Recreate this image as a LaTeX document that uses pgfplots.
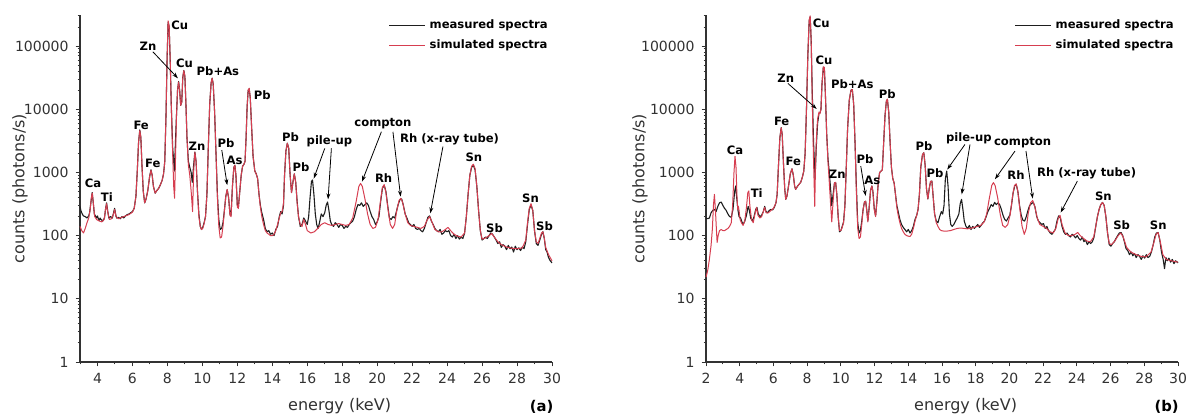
\documentclass[border=0pt]{standalone}
\usepackage{fontspec}
\setmainfont{DejaVu Sans}
\usepackage{pgfplots}
\usepackage{pgfplotstable}
\pgfplotsset{compat=1.18}
\usetikzlibrary{arrows.meta}

\definecolor{meascol}{RGB}{30,30,30}
\definecolor{simucol}{RGB}{214,62,80}
\definecolor{axgray}{RGB}{50,50,50}

% panel (a): measured
\pgfplotstableread[row sep=\\]{E c\\
3.00 290\\ 3.05 250\\ 3.10 230\\ 3.15 215\\ 3.20 205\\ 3.30 200\\ 3.40 190\\ 3.50 205\\
3.55 230\\ 3.62 330\\ 3.70 480\\ 3.76 330\\ 3.82 220\\ 3.90 200\\ 3.95 190\\ 4.00 205\\
4.05 185\\ 4.10 175\\ 4.15 190\\ 4.20 180\\ 4.30 170\\ 4.40 190\\ 4.46 260\\ 4.52 330\\
4.58 250\\ 4.65 190\\ 4.75 200\\ 4.85 190\\ 4.92 230\\ 4.98 270\\ 5.05 210\\ 5.10 190\\
5.20 195\\ 5.30 185\\ 5.40 200\\ 5.50 190\\ 5.60 205\\ 5.70 215\\ 5.80 220\\ 5.90 230\\
6.00 240\\ 6.10 270\\ 6.20 420\\ 6.28 1100\\ 6.35 3000\\ 6.42 4700\\ 6.48 3600\\ 6.55 1200\\
6.62 500\\ 6.70 330\\ 6.78 380\\ 6.88 520\\ 6.98 850\\ 7.06 1100\\ 7.13 900\\ 7.20 600\\
7.30 470\\ 7.40 520\\ 7.50 560\\ 7.60 640\\ 7.70 750\\ 7.78 950\\ 7.85 1500\\ 7.92 8000\\
7.98 60000\\ 8.04 240000\\ 8.10 200000\\ 8.16 60000\\ 8.22 12000\\ 8.30 2500\\ 8.40 1050\\ 8.50 6000\\
8.58 20000\\ 8.64 27500\\ 8.70 20000\\ 8.76 11500\\ 8.82 13000\\ 8.88 32000\\ 8.94 41000\\ 9.00 33000\\
9.06 12000\\ 9.12 3500\\ 9.20 1500\\ 9.28 1200\\ 9.36 1000\\ 9.42 700\\ 9.50 1300\\ 9.57 2100\\
9.64 1500\\ 9.72 500\\ 9.80 220\\ 9.88 140\\ 9.95 125\\ 10.02 135\\ 10.10 160\\ 10.18 200\\
10.26 450\\ 10.34 2500\\ 10.42 12000\\ 10.50 26000\\ 10.56 31000\\ 10.62 25000\\ 10.70 9000\\ 10.78 2000\\
10.86 450\\ 10.94 180\\ 11.02 125\\ 11.10 130\\ 11.18 160\\ 11.26 250\\ 11.34 420\\ 11.42 530\\
11.50 400\\ 11.58 220\\ 11.64 210\\ 11.72 600\\ 11.80 1200\\ 11.86 1300\\ 11.92 900\\ 12.00 300\\
12.06 280\\ 12.14 500\\ 12.22 900\\ 12.30 1250\\ 12.38 1350\\ 12.44 1500\\ 12.50 3500\\ 12.56 11000\\
12.62 20000\\ 12.68 21000\\ 12.74 15000\\ 12.82 5000\\ 12.90 1800\\ 13.00 1050\\ 13.08 950\\ 13.16 800\\
13.24 450\\ 13.32 300\\ 13.40 230\\ 13.50 180\\ 13.60 130\\ 13.70 115\\ 13.80 120\\ 13.90 105\\
14.00 110\\ 14.10 100\\ 14.20 125\\ 14.30 140\\ 14.40 200\\ 14.48 240\\ 14.56 220\\ 14.64 300\\
14.70 900\\ 14.78 2200\\ 14.86 2900\\ 14.94 2400\\ 15.02 900\\ 15.10 480\\ 15.18 700\\ 15.26 950\\
15.34 700\\ 15.42 350\\ 15.50 200\\ 15.60 140\\ 15.70 150\\ 15.80 190\\ 15.90 170\\ 16.00 150\\
16.08 200\\ 16.16 400\\ 16.24 720\\ 16.30 760\\ 16.38 450\\ 16.46 220\\ 16.54 150\\ 16.62 130\\
16.70 160\\ 16.80 220\\ 16.90 200\\ 17.00 230\\ 17.08 300\\ 17.16 340\\ 17.24 250\\ 17.32 170\\
17.40 150\\ 17.50 140\\ 17.60 160\\ 17.70 150\\ 17.80 135\\ 17.90 150\\ 18.00 145\\ 18.10 130\\
18.20 140\\ 18.30 135\\ 18.40 150\\ 18.50 160\\ 18.60 170\\ 18.70 200\\ 18.80 260\\ 18.90 310\\
19.00 300\\ 19.10 330\\ 19.20 290\\ 19.30 310\\ 19.40 330\\ 19.50 300\\ 19.60 240\\ 19.70 200\\
19.80 180\\ 19.90 150\\ 20.00 165\\ 20.10 200\\ 20.20 350\\ 20.30 560\\ 20.40 630\\ 20.50 500\\
20.60 300\\ 20.70 190\\ 20.80 180\\ 20.90 200\\ 21.00 190\\ 21.10 240\\ 21.20 310\\ 21.30 370\\
21.40 380\\ 21.50 300\\ 21.60 220\\ 21.70 190\\ 21.80 160\\ 21.90 150\\ 22.00 140\\ 22.10 150\\
22.20 130\\ 22.30 125\\ 22.40 130\\ 22.50 120\\ 22.60 115\\ 22.70 130\\ 22.80 160\\ 22.90 195\\
23.00 205\\ 23.10 170\\ 23.20 150\\ 23.30 130\\ 23.40 120\\ 23.50 115\\ 23.60 125\\ 23.70 105\\
23.80 110\\ 23.90 120\\ 24.00 115\\ 24.10 120\\ 24.20 100\\ 24.30 95\\ 24.40 105\\ 24.50 90\\
24.60 100\\ 24.70 88\\ 24.80 95\\ 24.90 90\\ 25.00 110\\ 25.10 200\\ 25.20 450\\ 25.30 900\\
25.40 1200\\ 25.50 1300\\ 25.60 1100\\ 25.70 600\\ 25.80 250\\ 25.90 120\\ 26.00 85\\ 26.10 90\\
26.20 95\\ 26.30 90\\ 26.40 100\\ 26.50 110\\ 26.60 105\\ 26.70 95\\ 26.80 85\\ 26.90 75\\
27.00 80\\ 27.10 65\\ 27.20 72\\ 27.30 68\\ 27.40 60\\ 27.50 70\\ 27.60 62\\ 27.70 66\\
27.80 55\\ 27.90 68\\ 28.00 60\\ 28.10 64\\ 28.20 58\\ 28.30 66\\ 28.40 62\\ 28.50 80\\
28.60 150\\ 28.70 260\\ 28.80 305\\ 28.90 250\\ 29.00 120\\ 29.10 75\\ 29.20 70\\ 29.30 85\\
29.40 105\\ 29.48 115\\ 29.56 90\\ 29.64 60\\ 29.72 55\\ 29.80 45\\ 29.90 40\\ 30.00 37\\
}\measA

% panel (a): simulated
\pgfplotstableread[row sep=\\]{E c\\
3.00 140\\ 3.10 120\\ 3.20 110\\ 3.30 130\\ 3.40 160\\ 3.50 190\\ 3.58 260\\ 3.65 400\\
3.70 470\\ 3.76 330\\ 3.84 200\\ 3.95 180\\ 4.10 170\\ 4.25 165\\ 4.38 180\\ 4.46 260\\
4.52 320\\ 4.58 240\\ 4.68 180\\ 4.80 185\\ 4.92 220\\ 4.98 260\\ 5.06 200\\ 5.20 185\\
5.40 195\\ 5.60 205\\ 5.80 215\\ 6.00 235\\ 6.10 270\\ 6.20 420\\ 6.28 1100\\ 6.35 3000\\
6.42 4600\\ 6.48 3600\\ 6.55 1200\\ 6.62 500\\ 6.70 330\\ 6.78 380\\ 6.88 520\\ 6.98 850\\
7.06 1080\\ 7.13 900\\ 7.20 600\\ 7.30 470\\ 7.40 520\\ 7.50 560\\ 7.60 640\\ 7.70 750\\
7.78 950\\ 7.85 1500\\ 7.92 8000\\ 7.98 60000\\ 8.04 250000\\ 8.10 210000\\ 8.16 60000\\ 8.22 12000\\
8.30 2000\\ 8.36 600\\ 8.41 390\\ 8.46 1500\\ 8.52 8000\\ 8.58 20000\\ 8.64 27000\\ 8.70 20000\\
8.76 11500\\ 8.82 13000\\ 8.88 32000\\ 8.94 41000\\ 9.00 33000\\ 9.06 12000\\ 9.12 3500\\ 9.20 1300\\
9.28 900\\ 9.36 500\\ 9.44 240\\ 9.50 1000\\ 9.57 2100\\ 9.64 1500\\ 9.72 500\\ 9.80 200\\
9.88 140\\ 9.95 125\\ 10.02 130\\ 10.10 155\\ 10.18 200\\ 10.26 450\\ 10.34 2500\\ 10.42 12000\\
10.50 26000\\ 10.56 31000\\ 10.62 25000\\ 10.70 9000\\ 10.78 2000\\ 10.86 400\\ 10.94 140\\ 11.02 92\\
11.10 95\\ 11.18 140\\ 11.26 250\\ 11.34 420\\ 11.42 540\\ 11.50 400\\ 11.58 210\\ 11.64 200\\
11.72 600\\ 11.80 1200\\ 11.86 1300\\ 11.92 900\\ 12.00 280\\ 12.06 270\\ 12.14 500\\ 12.22 900\\
12.30 1250\\ 12.38 1350\\ 12.44 1500\\ 12.50 3500\\ 12.56 11000\\ 12.62 20000\\ 12.68 21500\\ 12.74 15000\\
12.82 5000\\ 12.90 1800\\ 13.00 1050\\ 13.08 950\\ 13.16 800\\ 13.24 450\\ 13.32 280\\ 13.40 200\\
13.50 150\\ 13.60 120\\ 13.70 110\\ 13.80 105\\ 13.90 100\\ 14.00 100\\ 14.10 105\\ 14.20 120\\
14.30 150\\ 14.40 190\\ 14.48 230\\ 14.56 240\\ 14.64 320\\ 14.70 900\\ 14.78 2200\\ 14.86 2900\\
14.94 2400\\ 15.02 900\\ 15.10 480\\ 15.18 700\\ 15.26 950\\ 15.34 700\\ 15.42 330\\ 15.50 200\\
15.60 150\\ 15.70 140\\ 15.80 180\\ 15.90 150\\ 16.00 120\\ 16.20 110\\ 16.40 115\\ 16.60 130\\
16.80 150\\ 17.00 160\\ 17.20 150\\ 17.40 145\\ 17.60 150\\ 17.80 155\\ 18.00 150\\ 18.20 145\\
18.40 150\\ 18.60 190\\ 18.80 350\\ 18.95 600\\ 19.05 670\\ 19.15 600\\ 19.30 380\\ 19.45 220\\
19.60 150\\ 19.75 130\\ 19.90 135\\ 20.05 180\\ 20.20 370\\ 20.30 580\\ 20.40 640\\ 20.50 480\\
20.62 260\\ 20.75 150\\ 20.88 130\\ 21.00 150\\ 21.12 250\\ 21.25 360\\ 21.35 390\\ 21.45 340\\
21.60 220\\ 21.75 160\\ 21.90 145\\ 22.10 140\\ 22.30 135\\ 22.50 130\\ 22.70 140\\ 22.85 175\\
23.00 200\\ 23.15 160\\ 23.30 125\\ 23.50 115\\ 23.70 115\\ 23.90 125\\ 24.05 135\\ 24.20 120\\
24.40 105\\ 24.60 98\\ 24.80 95\\ 25.00 110\\ 25.10 200\\ 25.20 450\\ 25.30 900\\ 25.40 1250\\
25.50 1350\\ 25.60 1150\\ 25.70 600\\ 25.80 250\\ 25.90 120\\ 26.00 88\\ 26.20 92\\ 26.40 100\\
26.55 108\\ 26.70 95\\ 26.90 80\\ 27.10 72\\ 27.40 66\\ 27.70 63\\ 28.00 62\\ 28.30 64\\
28.50 85\\ 28.60 160\\ 28.70 270\\ 28.80 320\\ 28.90 250\\ 29.00 120\\ 29.10 80\\ 29.20 75\\
29.30 90\\ 29.40 110\\ 29.48 115\\ 29.56 90\\ 29.64 65\\ 29.80 50\\ 30.00 40\\
}\simA

% panel (b): measured
\pgfplotstableread[row sep=\\]{E c\\
2.00 190\\ 2.10 185\\ 2.20 190\\ 2.30 230\\ 2.40 250\\ 2.50 260\\ 2.60 240\\ 2.70 290\\
2.80 330\\ 2.90 340\\ 3.00 300\\ 3.10 270\\ 3.20 250\\ 3.30 220\\ 3.40 200\\ 3.50 195\\
3.60 260\\ 3.70 500\\ 3.76 610\\ 3.82 400\\ 3.90 250\\ 3.96 200\\ 4.05 190\\ 4.15 160\\
4.20 150\\ 4.30 170\\ 4.40 210\\ 4.50 290\\ 4.56 260\\ 4.65 190\\ 4.75 170\\ 4.85 200\\
4.95 260\\ 5.02 280\\ 5.10 220\\ 5.20 200\\ 5.30 210\\ 5.40 240\\ 5.48 290\\ 5.56 240\\
5.65 230\\ 5.75 250\\ 5.85 260\\ 5.95 255\\ 6.05 280\\ 6.15 330\\ 6.22 450\\ 6.30 1300\\
6.38 3500\\ 6.46 5100\\ 6.52 4000\\ 6.60 1300\\ 6.67 550\\ 6.73 375\\ 6.80 420\\ 6.90 620\\
7.00 950\\ 7.10 1140\\ 7.18 900\\ 7.26 600\\ 7.32 540\\ 7.42 600\\ 7.52 650\\ 7.62 700\\
7.72 850\\ 7.80 1050\\ 7.88 2000\\ 7.96 10000\\ 8.04 70000\\ 8.12 250000\\ 8.18 290000\\ 8.24 120000\\
8.30 20000\\ 8.38 3000\\ 8.47 780\\ 8.54 2500\\ 8.62 6000\\ 8.70 8500\\ 8.76 8800\\ 8.82 10000\\
8.88 25000\\ 8.96 46000\\ 9.02 45000\\ 9.08 18000\\ 9.16 4000\\ 9.24 1600\\ 9.30 1100\\ 9.38 600\\
9.46 300\\ 9.54 450\\ 9.62 680\\ 9.69 690\\ 9.76 450\\ 9.84 200\\ 9.92 115\\ 10.00 120\\
10.08 140\\ 10.16 165\\ 10.24 300\\ 10.32 1200\\ 10.40 5000\\ 10.50 14000\\ 10.60 20000\\ 10.68 20500\\
10.76 12000\\ 10.84 3000\\ 10.92 600\\ 11.00 160\\ 11.08 110\\ 11.16 120\\ 11.24 170\\ 11.32 260\\
11.40 340\\ 11.47 350\\ 11.54 250\\ 11.60 170\\ 11.68 280\\ 11.76 520\\ 11.84 610\\ 11.90 500\\
11.98 270\\ 12.06 205\\ 12.14 350\\ 12.22 700\\ 12.30 1000\\ 12.38 1050\\ 12.46 1100\\ 12.54 3000\\
12.62 8000\\ 12.70 13500\\ 12.76 14200\\ 12.84 9000\\ 12.92 3000\\ 13.00 1200\\ 13.08 800\\ 13.16 680\\
13.24 450\\ 13.32 300\\ 13.40 240\\ 13.50 180\\ 13.60 150\\ 13.70 135\\ 13.80 125\\ 13.90 115\\
14.00 125\\ 14.10 110\\ 14.20 120\\ 14.30 140\\ 14.40 180\\ 14.50 210\\ 14.58 260\\ 14.66 450\\
14.74 1200\\ 14.84 1900\\ 14.92 2050\\ 15.00 1300\\ 15.08 550\\ 15.16 380\\ 15.24 550\\ 15.32 720\\
15.40 730\\ 15.48 400\\ 15.56 220\\ 15.66 170\\ 15.76 160\\ 15.86 200\\ 15.96 240\\ 16.04 220\\
16.12 300\\ 16.20 800\\ 16.28 1050\\ 16.36 600\\ 16.44 220\\ 16.52 150\\ 16.60 140\\ 16.70 150\\
16.80 170\\ 16.90 190\\ 17.00 220\\ 17.08 320\\ 17.16 375\\ 17.24 260\\ 17.32 170\\ 17.42 140\\
17.52 130\\ 17.62 145\\ 17.72 125\\ 17.82 140\\ 17.92 130\\ 18.02 140\\ 18.12 150\\ 18.22 135\\
18.32 145\\ 18.42 160\\ 18.52 170\\ 18.62 200\\ 18.72 240\\ 18.82 270\\ 18.92 310\\ 19.02 290\\
19.12 335\\ 19.22 310\\ 19.32 330\\ 19.42 310\\ 19.52 260\\ 19.62 210\\ 19.72 180\\ 19.82 170\\
19.92 190\\ 20.02 210\\ 20.12 300\\ 20.22 480\\ 20.32 620\\ 20.40 650\\ 20.50 500\\ 20.60 300\\
20.70 210\\ 20.80 175\\ 20.90 170\\ 21.00 200\\ 21.10 250\\ 21.20 300\\ 21.30 320\\ 21.42 335\\
21.52 280\\ 21.62 200\\ 21.72 170\\ 21.82 160\\ 21.92 150\\ 22.02 155\\ 22.12 130\\ 22.22 140\\
22.32 120\\ 22.42 110\\ 22.52 105\\ 22.62 115\\ 22.72 125\\ 22.82 170\\ 22.92 205\\ 23.02 190\\
23.12 140\\ 23.22 115\\ 23.32 105\\ 23.42 110\\ 23.52 100\\ 23.62 95\\ 23.72 105\\ 23.82 100\\
23.92 92\\ 24.02 100\\ 24.12 90\\ 24.22 85\\ 24.32 95\\ 24.42 80\\ 24.52 85\\ 24.62 72\\
24.72 80\\ 24.82 75\\ 24.92 80\\ 25.02 95\\ 25.12 140\\ 25.22 200\\ 25.32 260\\ 25.42 310\\
25.52 335\\ 25.62 300\\ 25.72 200\\ 25.82 110\\ 25.92 72\\ 26.02 68\\ 26.12 75\\ 26.22 80\\
26.32 90\\ 26.42 100\\ 26.52 110\\ 26.62 112\\ 26.72 100\\ 26.82 80\\ 26.92 62\\ 27.02 58\\
27.12 50\\ 27.22 55\\ 27.32 48\\ 27.42 52\\ 27.52 45\\ 27.62 50\\ 27.72 47\\ 27.82 42\\
27.92 48\\ 28.02 44\\ 28.12 50\\ 28.22 45\\ 28.32 47\\ 28.42 55\\ 28.52 70\\ 28.62 95\\
28.72 110\\ 28.82 112\\ 28.92 85\\ 29.02 55\\ 29.12 42\\ 29.20 30\\ 29.28 45\\ 29.36 40\\
29.46 44\\ 29.56 38\\ 29.66 42\\ 29.76 36\\ 29.86 40\\ 30.00 37\\
}\measB

% panel (b): simulated
\pgfplotstableread[row sep=\\]{E c\\
2.00 22\\ 2.10 28\\ 2.20 42\\ 2.30 70\\ 2.38 130\\ 2.44 300\\ 2.50 450\\ 2.56 250\\
2.62 120\\ 2.66 78\\ 2.72 100\\ 2.80 120\\ 2.90 125\\ 3.00 120\\ 3.10 120\\ 3.20 125\\
3.30 130\\ 3.40 140\\ 3.50 160\\ 3.58 300\\ 3.66 1000\\ 3.72 1800\\ 3.78 1200\\ 3.84 400\\
3.88 260\\ 3.92 290\\ 3.96 250\\ 4.02 180\\ 4.10 160\\ 4.20 145\\ 4.30 170\\ 4.40 280\\
4.48 480\\ 4.54 510\\ 4.60 300\\ 4.70 180\\ 4.80 160\\ 4.92 230\\ 5.00 280\\ 5.08 210\\
5.20 190\\ 5.30 200\\ 5.40 240\\ 5.48 280\\ 5.56 230\\ 5.70 230\\ 5.85 250\\ 6.00 270\\
6.15 330\\ 6.22 450\\ 6.30 1300\\ 6.38 3500\\ 6.46 5100\\ 6.52 4000\\ 6.60 1300\\ 6.67 550\\
6.73 375\\ 6.80 420\\ 6.90 620\\ 7.00 950\\ 7.10 1140\\ 7.18 900\\ 7.26 600\\ 7.32 540\\
7.42 600\\ 7.52 650\\ 7.62 700\\ 7.72 850\\ 7.80 1050\\ 7.88 2000\\ 7.96 10000\\ 8.04 70000\\
8.12 260000\\ 8.18 300000\\ 8.24 120000\\ 8.30 15000\\ 8.38 1500\\ 8.45 290\\ 8.50 1500\\ 8.56 4000\\
8.62 7000\\ 8.70 9000\\ 8.76 8500\\ 8.82 10000\\ 8.88 25000\\ 8.96 47000\\ 9.02 46000\\ 9.08 18000\\
9.16 4000\\ 9.24 1400\\ 9.30 800\\ 9.38 350\\ 9.46 165\\ 9.54 350\\ 9.62 680\\ 9.69 700\\
9.76 450\\ 9.84 200\\ 9.92 120\\ 10.00 120\\ 10.08 135\\ 10.16 160\\ 10.24 300\\ 10.32 1200\\
10.40 5000\\ 10.50 14000\\ 10.60 20000\\ 10.68 20500\\ 10.76 12000\\ 10.84 3000\\ 10.92 500\\ 11.00 130\\
11.08 90\\ 11.16 95\\ 11.24 150\\ 11.32 260\\ 11.40 340\\ 11.47 350\\ 11.54 240\\ 11.60 165\\
11.68 280\\ 11.76 520\\ 11.84 610\\ 11.90 500\\ 11.98 260\\ 12.06 200\\ 12.14 350\\ 12.22 700\\
12.30 1000\\ 12.38 1050\\ 12.46 1100\\ 12.54 3000\\ 12.62 8000\\ 12.70 13500\\ 12.76 14500\\ 12.84 9000\\
12.92 3000\\ 13.00 1200\\ 13.08 800\\ 13.16 680\\ 13.24 450\\ 13.32 280\\ 13.40 210\\ 13.50 160\\
13.60 130\\ 13.70 115\\ 13.80 105\\ 13.90 100\\ 14.00 98\\ 14.10 97\\ 14.20 105\\ 14.30 130\\
14.40 170\\ 14.50 210\\ 14.58 260\\ 14.66 450\\ 14.74 1200\\ 14.84 1900\\ 14.92 2050\\ 15.00 1300\\
15.08 550\\ 15.16 380\\ 15.24 550\\ 15.32 720\\ 15.40 730\\ 15.48 400\\ 15.56 220\\ 15.66 160\\
15.76 140\\ 15.86 125\\ 15.96 120\\ 16.10 118\\ 16.30 118\\ 16.50 120\\ 16.70 125\\ 16.90 130\\
17.10 132\\ 17.30 130\\ 17.50 128\\ 17.70 130\\ 17.90 135\\ 18.10 140\\ 18.30 145\\ 18.50 165\\
18.65 220\\ 18.80 380\\ 18.95 620\\ 19.05 690\\ 19.15 620\\ 19.30 400\\ 19.45 220\\ 19.60 145\\
19.75 135\\ 19.90 150\\ 20.05 220\\ 20.20 450\\ 20.30 620\\ 20.40 660\\ 20.50 500\\ 20.62 260\\
20.75 140\\ 20.88 105\\ 21.00 130\\ 21.12 230\\ 21.25 330\\ 21.38 360\\ 21.50 290\\ 21.65 190\\
21.80 150\\ 22.00 140\\ 22.20 130\\ 22.40 115\\ 22.60 110\\ 22.75 130\\ 22.90 190\\ 23.00 210\\
23.12 150\\ 23.30 110\\ 23.50 100\\ 23.70 100\\ 23.90 105\\ 24.05 112\\ 24.20 100\\ 24.40 90\\
24.60 82\\ 24.80 80\\ 25.00 95\\ 25.12 140\\ 25.22 200\\ 25.32 260\\ 25.42 310\\ 25.52 335\\
25.62 300\\ 25.72 200\\ 25.82 110\\ 25.92 75\\ 26.05 72\\ 26.25 82\\ 26.45 100\\ 26.60 110\\
26.75 95\\ 26.95 65\\ 27.20 55\\ 27.50 50\\ 27.80 47\\ 28.10 46\\ 28.40 55\\ 28.55 75\\
28.70 105\\ 28.82 112\\ 28.95 80\\ 29.10 50\\ 29.30 42\\ 29.60 40\\ 30.00 38\\
}\simB

\tikzset{
  txtlab/.style={font=\bfseries\fontsize{5.8}{6}\selectfont, inner sep=0pt, text=black},
  txtarr/.style={-{Stealth[length=3pt,width=2pt]}, line width=0.4pt, black},
}
\pgfplotsset{
  legend image code/.code={\draw[#1, line width=0.6pt] (0pt,0pt) -- (18pt,0pt);},
  every axis legend/.append style={draw=none, fill=none, at={(1,1.0)}, anchor=north east,
    font=\bfseries\fontsize{5.8}{6}\selectfont, row sep=0pt, inner sep=0pt, cells={anchor=west}},
  every axis label/.append style={font=\fontsize{8}{9}\selectfont, text=axgray},
  every tick label/.append style={font=\fontsize{7}{8}\selectfont, text=axgray},
}

\begin{document}
\begin{tikzpicture}
\path[use as bounding box] (0,0) rectangle (593.5pt,208.5pt);

% ---------- (a) ----------
\begin{axis}[at={(40pt,27.5pt)}, anchor=south west,
  scale only axis, width=236pt, height=173.5pt,
  ymode=log, ymin=1, ymax=310000, xmin=3, xmax=30,
  axis lines=left, axis line style={axgray, line width=0.6pt, -},
  tick align=outside, major tick length=2.2pt, minor tick length=1.2pt,
  tick style={axgray, line width=0.5pt},
  xtick={4,6,8,10,12,14,16,18,20,22,24,26,28,30},
  minor xtick={3,5,7,9,11,13,15,17,19,21,23,25,27,29},
  ytick={1,10,100,1000,10000,100000},
  yticklabels={1,10,100,1000,10000,100000},
  minor ytick={2,3,4,5,6,7,8,9,20,30,40,50,60,70,80,90,200,300,400,500,600,700,800,900,2000,3000,4000,5000,6000,7000,8000,9000,20000,30000,40000,50000,60000,70000,80000,90000,200000,300000},
  xticklabel={\pgfmathprintnumber[assume math mode=true]{\tick}},
  xlabel={energy (keV)}, ylabel={counts (photons/s)},
  xlabel style={at={(axis description cs:0.55,-0.127)}, anchor=center},
  ylabel style={at={(axis description cs:-0.127,0.5)}, anchor=center},
  clip=false]
\addplot[meascol, line width=0.55pt, line join=round] table[x=E, y=c] {\measA};
\addlegendentry{measured spectra}
\addplot[simucol, line width=0.5pt, line join=round] table[x=E, y=c] {\simA};
\addlegendentry{simulated spectra}

\node[txtlab] at (axis cs:3.74,680) {Ca};
\node[txtlab] at (axis cs:4.54,410) {Ti};
\node[txtlab] at (axis cs:6.50,5620) {Fe};
\node[txtlab] at (axis cs:7.17,1390) {Fe};
\node[txtlab] at (axis cs:8.70,215000) {Cu};
\node[txtlab] at (axis cs:6.89,100000) {Zn};
\draw[txtarr] (axis cs:7.17,81000) -- (axis cs:8.60,30900);
\node[txtlab] at (axis cs:8.98,53300) {Cu};
\node[txtlab] at (axis cs:10.89,39400) {Pb+As};
\node[txtlab] at (axis cs:13.42,16700) {Pb};
\node[txtlab] at (axis cs:9.69,2630) {Zn};
\node[txtlab] at (axis cs:11.36,2880) {Pb};
\draw[txtarr] (axis cs:11.11,2260) -- (axis cs:11.42,630);
\node[txtlab] at (axis cs:11.84,1570) {As};
\node[txtlab] at (axis cs:15.04,3670) {Pb};
\node[txtlab] at (axis cs:15.65,1200) {Pb};
\node[txtlab] at (axis cs:17.27,3100) {pile-up};
\draw[txtarr] (axis cs:17.00,2400) -- (axis cs:16.37,800);
\draw[txtarr] (axis cs:17.38,2400) -- (axis cs:17.19,375);
\node[txtlab] at (axis cs:20.33,5830) {compton};
\draw[txtarr] (axis cs:20.24,4400) -- (axis cs:19.13,715);
\draw[txtarr] (axis cs:20.90,4400) -- (axis cs:21.34,414);
\node[txtlab] at (axis cs:24.14,3340) {Rh (x-ray tube)};
\draw[txtarr] (axis cs:23.76,2560) -- (axis cs:23.04,225);
\node[txtlab] at (axis cs:20.37,807) {Rh};
\node[txtlab] at (axis cs:25.53,1740) {Sn};
\node[txtlab] at (axis cs:26.71,133) {Sb};
\node[txtlab] at (axis cs:28.77,383) {Sn};
\node[txtlab] at (axis cs:29.57,142) {Sb};
\node[font=\bfseries\fontsize{7.4}{8}\selectfont] at (axis description cs:0.978,-0.129) {(a)};
\end{axis}

% ---------- (b) ----------
\begin{axis}[at={(353pt,27.5pt)}, anchor=south west,
  scale only axis, width=236pt, height=173.5pt,
  ymode=log, ymin=1, ymax=310000, xmin=2, xmax=30,
  axis lines=left, axis line style={axgray, line width=0.6pt, -},
  tick align=outside, major tick length=2.2pt, minor tick length=1.2pt,
  tick style={axgray, line width=0.5pt},
  xtick={2,4,6,8,10,12,14,16,18,20,22,24,26,28,30},
  minor xtick={3,5,7,9,11,13,15,17,19,21,23,25,27,29},
  ytick={1,10,100,1000,10000,100000},
  yticklabels={1,10,100,1000,10000,100000},
  minor ytick={2,3,4,5,6,7,8,9,20,30,40,50,60,70,80,90,200,300,400,500,600,700,800,900,2000,3000,4000,5000,6000,7000,8000,9000,20000,30000,40000,50000,60000,70000,80000,90000,200000,300000},
  xticklabel={\pgfmathprintnumber[assume math mode=true]{\tick}},
  xlabel={energy (keV)}, ylabel={counts (photons/s)},
  xlabel style={at={(axis description cs:0.55,-0.127)}, anchor=center},
  ylabel style={at={(axis description cs:-0.14,0.5)}, anchor=center},
  clip=false]
\addplot[meascol, line width=0.55pt, line join=round] table[x=E, y=c] {\measB};
\addlegendentry{measured spectra}
\addplot[simucol, line width=0.5pt, line join=round] table[x=E, y=c] {\simB};
\addlegendentry{simulated spectra}

\node[txtlab] at (axis cs:3.72,2230) {Ca};
\node[txtlab] at (axis cs:5.01,470) {Ti};
\node[txtlab] at (axis cs:6.49,6470) {Fe};
\node[txtlab] at (axis cs:7.18,1510) {Fe};
\node[txtlab] at (axis cs:8.84,226000) {Cu};
\node[txtlab] at (axis cs:9.00,59700) {Cu};
\node[txtlab] at (axis cs:6.73,30400) {Zn};
\draw[txtarr] (axis cs:6.86,25600) -- (axis cs:8.57,10100);
\node[txtlab] at (axis cs:10.68,24600) {Pb+As};
\node[txtlab] at (axis cs:12.76,17100) {Pb};
\node[txtlab] at (axis cs:9.79,930) {Zn};
\node[txtlab] at (axis cs:11.43,1610) {Pb};
\draw[txtarr] (axis cs:11.18,1260) -- (axis cs:11.47,425);
\node[txtlab] at (axis cs:11.87,760) {As};
\node[txtlab] at (axis cs:14.93,2630) {Pb};
\node[txtlab] at (axis cs:15.59,990) {Pb};
\node[txtlab] at (axis cs:17.59,3530) {pile-up};
\draw[txtarr] (axis cs:17.36,2770) -- (axis cs:16.31,1110);
\draw[txtarr] (axis cs:17.66,2770) -- (axis cs:17.17,450);
\node[txtlab] at (axis cs:20.78,2950) {compton};
\draw[txtarr] (axis cs:20.33,2180) -- (axis cs:19.14,780);
\draw[txtarr] (axis cs:20.98,2180) -- (axis cs:21.38,385);
\node[txtlab] at (axis cs:20.39,900) {Rh};
\node[txtlab] at (axis cs:24.58,970) {Rh (x-ray tube)};
\draw[txtarr] (axis cs:24.03,730) -- (axis cs:23.04,232);
\node[txtlab] at (axis cs:25.57,425) {Sn};
\node[txtlab] at (axis cs:26.66,146) {Sb};
\node[txtlab] at (axis cs:28.83,146) {Sn};
\node[font=\bfseries\fontsize{7.4}{8}\selectfont] at (axis description cs:0.976,-0.129) {(b)};
\end{axis}
\end{tikzpicture}
\end{document}
